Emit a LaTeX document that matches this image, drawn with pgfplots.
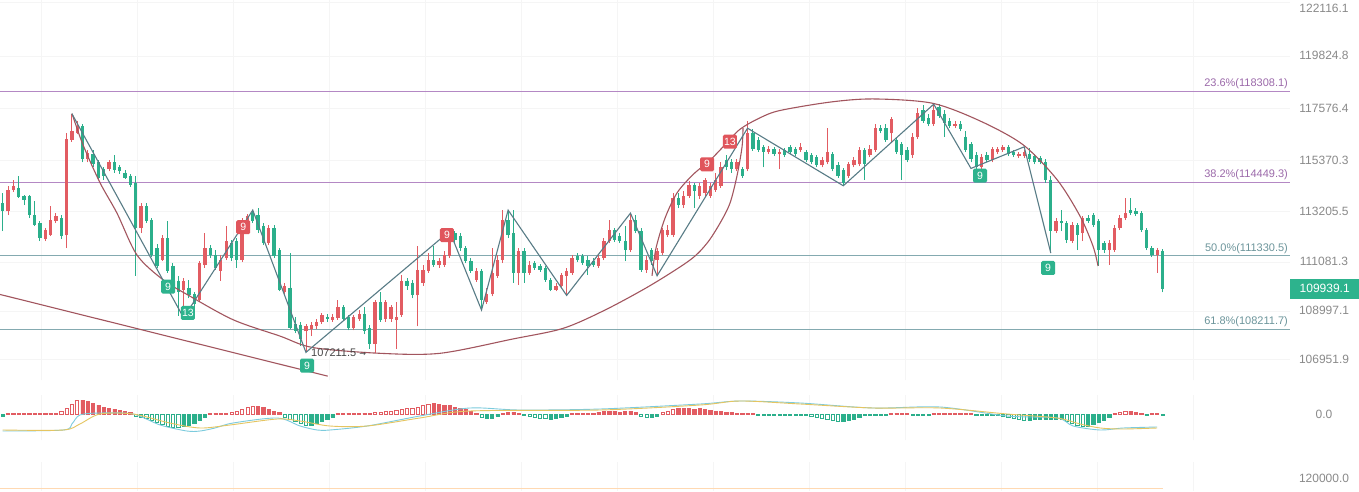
\documentclass[border=0pt]{standalone}
\usepackage{pgfplots}
\pgfplotsset{compat=1.18}
\usepackage{pgfplotstable}
\usepackage{fontspec}
\setmainfont{Liberation Sans}
\newfontfamily\dejavu{DejaVu Sans}

\definecolor{upc}{HTML}{E25C62}
\definecolor{downc}{HTML}{2BAF8B}
\definecolor{boxg}{HTML}{2DB38D}
\definecolor{boxr}{HTML}{E0555C}
\definecolor{fibp}{HTML}{B488C4}
\definecolor{fibpt}{HTML}{9C6AAA}
\definecolor{fibt}{HTML}{84AAB0}
\definecolor{fibtt}{HTML}{6C959B}
\definecolor{zig}{HTML}{587C86}
\definecolor{arc}{HTML}{A2555E}
\definecolor{tickc}{HTML}{8A8A8A}
\definecolor{difc}{HTML}{7CCBDD}
\definecolor{deac}{HTML}{E5C561}

% i open high low close macd-hist filled
\pgfplotstableread{
i o h l c m f
0 113572 114002 112378 113229 -80 1
1 113229 114305 113059 114132 40 1
2 114132 114564 114045 114305 40 1
3 114218 114737 113787 113830 40 1
4 113873 113916 113486 113701 40 1
5 113873 113916 112931 113059 40 1
6 113059 113658 112591 112633 40 1
7 112718 112803 111954 112081 40 1
8 112039 112506 111954 112421 40 1
9 112208 113443 112166 112846 40 1
10 112803 113144 112718 113016 40 1
11 112931 113059 112039 112166 120 0
12 112208 116528 111658 116308 240 0
13 116264 117367 116176 116616 400 0
14 116528 117057 116484 116837 560 0
15 116837 116925 115302 115433 560 1
16 115433 115826 115302 115694 520 1
17 115651 115826 115085 115215 440 1
18 115302 115389 114564 114651 360 1
19 114998 115085 114564 114737 280 1
20 114998 115389 114911 115302 240 1
21 115302 115607 114867 114954 200 1
22 115085 115172 114824 114911 160 1
23 114867 114954 114607 114651 120 1
24 114737 114824 114261 114348 80 1
25 114434 114737 110484 112506 -80 0
26 112506 113572 112293 113443 -120 0
27 113443 113572 112718 112803 -160 0
28 112846 112931 111280 111364 -240 0
29 111658 111827 110818 110902 -320 0
30 111153 112208 111111 112081 -400 0
31 112081 112803 110609 110693 -480 0
32 110902 111027 110192 110276 -520 0
33 110276 110484 108786 109776 -520 0
34 109901 110401 108703 110276 -480 1
35 109984 110317 109528 109652 -440 1
36 109693 109776 109115 109280 -360 1
37 109445 111111 109362 111027 -240 1
38 110944 112293 110818 111658 -120 1
39 111658 111785 111238 111364 40 1
40 111364 111574 110735 110818 40 1
41 110693 111364 110276 111153 40 1
42 111238 112591 111153 111954 40 1
43 111869 111996 111111 111238 80 0
44 111954 112081 110818 111153 120 0
45 111153 112931 111069 112846 200 0
46 112421 113101 112336 113016 280 0
47 113144 113272 112718 112803 320 0
48 113059 113358 112293 112421 320 1
49 112591 112718 111785 111869 280 1
50 111869 112633 111785 112506 200 1
51 112506 112633 111238 111322 120 1
52 111574 111658 109818 109901 80 1
53 109776 110192 109693 110067 -120 0
54 109984 111448 108212 108253 -200 0
55 108457 108745 108048 108130 -280 0
56 108417 108539 107519 107804 -360 0
57 108130 108457 107235 108335 -440 0
58 108212 108539 107926 108417 -440 1
59 108335 108662 108212 108539 -360 1
60 108539 108909 108457 108827 -280 1
61 108745 108868 108539 108662 -200 1
62 108621 108868 108539 108745 -120 1
63 108703 109445 108621 109156 40 1
64 109156 109238 108580 108662 40 1
65 108745 108827 108171 108253 40 1
66 108253 108827 108171 108745 40 1
67 108662 109032 108580 108868 40 1
68 108868 109156 108007 108130 40 1
69 108253 108417 107397 107600 40 1
70 107600 109445 107195 109362 80 0
71 109362 109776 108539 108621 80 0
72 108662 109445 108539 109362 120 0
73 108662 109238 108539 109156 120 0
74 108621 109362 107397 108745 160 0
75 108827 110526 108745 110276 200 0
76 110276 110401 109901 110067 240 0
77 110192 110317 109528 109652 240 0
78 109652 111743 108335 110735 280 0
79 110192 110944 110067 110735 360 0
80 110693 111448 110609 111153 400 0
81 111153 111743 110860 110944 440 1
82 110944 111238 110818 111111 400 1
83 110944 111532 110860 111364 360 1
84 111322 112378 111238 112293 360 1
85 112293 112378 111869 111996 280 1
86 112166 112293 111532 111658 240 1
87 111658 111743 111027 111111 200 1
88 111111 111238 110609 110693 120 1
89 110317 110818 110234 110693 40 1
90 110693 110776 109032 109445 -120 0
91 109362 109984 109280 109693 -160 1
92 109693 111658 109610 110609 -160 1
93 110484 111364 110401 111153 -80 1
94 111153 113272 111027 112846 40 1
95 112846 113272 112081 112208 80 1
96 112293 113272 110192 110609 80 1
97 110609 111658 110109 111532 40 1
98 111532 111658 110192 110609 -40 0
99 110609 111111 110526 110944 -80 0
100 111027 111111 110735 110818 -120 0
101 110902 110985 110651 110735 -160 0
102 110818 110902 110234 110317 -160 0
103 110317 110401 109818 109901 -200 1
104 109901 110192 109818 110067 -160 1
105 110067 110609 109984 110526 -120 1
106 110484 110818 109652 110693 -80 1
107 110609 111364 110526 111238 40 1
108 111322 111448 111069 111153 40 1
109 111322 111406 110944 111027 40 1
110 111153 111322 110526 110902 40 1
111 111111 111238 110860 110944 40 1
112 110902 111364 110818 111238 80 1
113 111238 112081 111153 111954 120 1
114 111954 112846 111869 112421 120 1
115 112421 112506 111911 111996 120 1
116 112166 112293 111869 111954 80 1
117 111954 112591 111111 111574 120 1
118 111574 113144 111490 112846 120 1
119 112846 113059 112293 112378 80 1
120 112378 112506 110651 110735 -80 0
121 110735 111322 110609 111153 -120 0
122 111574 111658 110944 111111 -120 1
123 111153 111658 110484 111532 -80 1
124 111448 112506 111364 112421 80 0
125 112208 112633 112124 112421 120 0
126 112208 114002 112124 113787 200 0
127 113787 114002 113358 113486 240 1
128 113486 114089 113358 113873 240 1
129 113873 114521 113787 114348 240 1
130 114348 114434 113358 114089 200 1
131 113873 114434 113744 114305 240 1
132 114002 114651 113873 114564 200 1
133 113873 114434 113787 114305 160 1
134 114132 114867 114045 114564 120 1
135 114305 115302 114218 115085 120 1
136 115389 115607 114954 115085 80 1
137 115302 115433 114867 114998 80 1
138 114998 115433 114911 115302 40 1
139 114998 115085 114651 114737 40 1
140 114998 117057 114911 116528 40 1
141 116528 116704 115782 115870 40 1
142 116264 116396 115738 115826 -40 0
143 115957 116045 115085 115738 -40 0
144 115738 116001 115651 115870 -40 0
145 115870 115957 115564 115651 -40 0
146 115651 115870 114998 115738 -40 0
147 115826 115913 115520 115607 -40 0
148 115957 116045 115651 115738 -40 0
149 115870 115957 115564 115651 -40 0
150 115826 116132 115738 115957 -40 0
151 115738 115826 115302 115389 -40 0
152 115607 115694 115215 115302 -80 0
153 115520 115607 115085 115172 -120 0
154 115172 115520 115085 115389 -160 0
155 115302 116748 115215 115738 -200 0
156 115651 115738 114911 114998 -240 0
157 115172 115302 114651 114737 -280 0
158 114954 115041 114305 114434 -280 1
159 114737 115302 114651 115215 -240 1
160 115172 115520 115085 115389 -200 1
161 115215 115957 115128 115826 -120 1
162 115826 115913 114564 115215 -40 0
163 115607 116045 115520 115870 -40 0
164 115826 116925 115738 116748 -40 0
165 116748 116881 116528 116616 -40 0
166 116748 116925 116176 116264 -40 0
167 116528 117234 116176 117146 40 1
168 116264 116396 115651 115738 40 1
169 116088 116176 114564 115607 40 1
170 115826 115957 115302 115389 40 1
171 115607 116528 115476 116396 -40 0
172 116396 117589 116308 117411 -40 0
173 117500 117722 116969 117057 -40 0
174 117190 117367 116837 116925 -40 0
175 116925 117767 116837 117500 40 1
176 117633 117767 117190 117279 40 1
177 117367 117500 116396 116969 40 1
178 117057 117190 116748 116837 40 1
179 116837 117057 116748 116925 40 1
180 116925 117057 116616 116704 40 1
181 116396 116616 115738 115826 40 1
182 116088 116176 115302 115433 40 1
183 115607 115738 114954 115085 -40 0
184 115085 115651 114998 115520 -40 0
185 115607 115738 115302 115389 -40 0
186 115389 115957 115302 115870 -40 0
187 115738 115957 115651 115870 -40 0
188 115826 116045 115738 115957 -80 0
189 115957 116045 115564 115651 -120 0
190 115738 115826 115520 115607 -160 0
191 115564 115738 115476 115651 -200 0
192 115564 115826 115476 115738 -240 0
193 115651 115913 115302 115433 -240 1
194 115564 115651 115215 115302 -200 1
195 115476 115564 115215 115302 -200 1
196 115302 115433 114434 114564 -200 1
197 114564 114737 111448 112378 -200 1
198 112378 112931 112293 112803 -200 1
199 112803 113272 112378 112718 -200 1
200 112718 112803 111869 111996 -280 0
201 111954 112761 111869 112633 -360 0
202 112633 112718 111574 112208 -440 0
203 112293 113016 111954 112931 -480 0
204 112931 113059 112718 112803 -480 1
205 113059 113144 112548 112633 -400 1
206 112803 112888 110902 111574 -320 1
207 111869 111954 111448 111574 -240 1
208 111574 111996 110944 111869 -120 1
209 111574 112633 111490 112506 40 1
210 112506 113059 112421 112931 80 0
211 112931 113787 112846 113144 120 0
212 113272 113787 113059 113144 120 1
213 113229 113358 113016 113101 80 1
214 113144 113229 112336 112421 40 1
215 112421 112506 111574 111658 -40 1
216 111658 111743 111280 111364 40 1
217 111364 111658 110609 111574 40 1
218 111532 111616 109776 109939 -40 0
}\data

\pgfplotsset{
  panel/.style={scale only axis, anchor=south west, width=1290pt,
    xmin=-0.508, xmax=241.97, axis line style={draw=none},
    xtick={7.2,25.25,43.3,61.35,79.4,97.45,115.5,133.55,151.6,169.65,187.7,205.75,223.8},
    xticklabels={}, xmajorgrids, grid style={draw=black!4},
    major tick length=0pt, yticklabel pos=right, clip=false,
    scaled y ticks=false,
    yticklabel style={anchor=center, xshift=34pt, text=tickc,
      font=\fontsize{12}{14}\selectfont}},
}
\tikzset{
  lb/.style={rounded corners=1.5pt, minimum width=14pt, minimum height=14pt,
    inner sep=0pt, text=white, font=\fontsize{10.5}{10.5}\selectfont},
  fiblab/.style={anchor=south east, inner sep=0pt, yshift=2pt,
    font=\fontsize{11}{13}\selectfont},
}

\begin{document}
\begin{tikzpicture}
\fill[white] (0pt,0pt) rectangle (1359pt,491pt);

% ---------- price panel ----------
\begin{axis}[panel, at={(0pt,111pt)}, height=380pt,
  ymin=106062, ymax=122189,
  ytick={106951.9,108997.1,111081.3,113205.5,115370.3,117576.4,119824.8,122116.1},
  yticklabels={106951.9,108997.1,111081.3,113205.5,115370.3,117576.4,119824.8,
    \raisebox{-10.5pt}[0pt][0pt]{122116.1}},
  ymajorgrids]

% fibonacci levels
\addplot[fibp, line width=1pt] coordinates {(-0.508,118308.1) (241.97,118308.1)};
\addplot[fibp, line width=1pt] coordinates {(-0.508,114449.3) (241.97,114449.3)};
\addplot[fibt, line width=1pt] coordinates {(-0.508,111330.5) (241.97,111330.5)};
\addplot[fibt, line width=1pt] coordinates {(-0.508,108211.7) (241.97,108211.7)};
\node[fiblab, text=fibpt] at (axis cs:241.6,118308.1) {23.6\%(118308.1)};
\node[fiblab, text=fibpt] at (axis cs:241.6,114449.3) {38.2\%(114449.3)};
\node[fiblab, text=fibtt] at (axis cs:241.6,111330.5) {50.0\%(111330.5)};
\node[fiblab, text=fibtt] at (axis cs:241.6,108211.7) {61.8\%(108211.7)};

% candles, one wick and one body per row of the table
\pgfplotsinvokeforeach{0,...,218}{
  \pgfplotstablegetelem{#1}{o}\of\data \let\vo\pgfplotsretval
  \pgfplotstablegetelem{#1}{h}\of\data \let\vh\pgfplotsretval
  \pgfplotstablegetelem{#1}{l}\of\data \let\vl\pgfplotsretval
  \pgfplotstablegetelem{#1}{c}\of\data \let\vc\pgfplotsretval
  \ifnum\vc<\vo\relax \def\cc{downc}\else \def\cc{upc}\fi
  \edef\tmp{%
    \noexpand\addplot[forget plot, draw=\cc, line width=0.9pt]
      coordinates {(#1,\vl) (#1,\vh)};
    \noexpand\addplot[forget plot, draw=\cc, line width=3.3pt]
      coordinates {(#1,\vo) (#1,\vc)};}%
  \tmp
}

% falling trend line
\addplot[arc, line width=1.1pt] coordinates {(-0.508,109693) (61.1,106225)};

% cup arc
\addplot[arc, line width=1.1pt, smooth, tension=0.5] coordinates {
 (13.03,117367) (15.09,116045) (18.29,114434) (21.48,113144) (25.24,111364)
 (30.13,110317) (34.64,109693) (43.29,108621) (52.12,107926) (58.33,107438)
 (70.92,107195) (82.20,107195) (95.92,107804) (105.32,108253) (113.22,109032)
 (121.68,110067) (129.19,111153) (132.39,111869) (134.83,112718) (136.71,113572)
 (138.03,114737) (138.97,115957) (139.15,116748)};
% dome arc
\addplot[arc, line width=1.1pt, smooth, tension=0.5] coordinates {
 (122.05,110484) (122.80,111658) (124.49,112931) (126.75,114002) (129.76,114780)
 (132.95,115389) (135.77,116045) (138.59,116704) (142.35,117190) (146.11,117500)
 (155.51,117856) (163.59,117990) (174.68,117811) (183.70,117057) (191.79,116045)
 (198.18,114564) (202.50,113016) (204.94,111743) (205.88,110902)};

% zigzag
\addplot[zig, line width=1.1pt] coordinates {
 (13,117367) (34,108703) (47,113272) (57,107235) (84,112378) (90,109032)
 (95,113272) (106,109652) (118,113144) (123,110484) (140,116748)
 (158,114305) (175,117767) (182,115041) (192,115957) (197,111448)};

% count labels
\node[lb, fill=boxg] at (axis cs:31.1,110026) {9};
\node[lb, fill=boxg] at (axis cs:34.8,108909) {13};
\node[lb, fill=boxg] at (axis cs:57.2,106669) {9};
\node[lb, fill=boxr] at (axis cs:45.2,112548) {9};
\node[lb, fill=boxr] at (axis cs:83.5,112208) {9};
\node[lb, fill=boxr] at (axis cs:132.4,115215) {9};
\node[lb, fill=boxr] at (axis cs:136.7,116176) {13};
\node[lb, fill=boxg] at (axis cs:183.7,114737) {9};
\node[lb, fill=boxg] at (axis cs:196.5,110818) {9};

\node[anchor=west, inner sep=0pt, text=black!72, font=\fontsize{11}{13}\selectfont]
  at (axis cs:57.95,107235) {107211.5 {\dejavu\fontsize{8}{8}\selectfont →}};

% last price tag
\node[anchor=west, fill=boxg, text=white, inner sep=0pt, minimum width=69pt,
  minimum height=20pt, font=\fontsize{12}{14}\selectfont]
  at (axis cs:241.97,109939.1) {109939.1};
\end{axis}

% ---------- MACD panel ----------
\begin{axis}[panel, at={(0pt,51pt)}, height=45pt, ymin=-1040, ymax=760,
  ytick={0}, yticklabels={0.0}]
\addplot[ybar, bar width=3.2pt, bar shift=0pt, draw=upc, fill=white, line width=0.6pt,
  restrict expr to domain={2*\thisrow{f}+(\thisrow{m}>0)}{0.5:1.5}]
  table[x=i, y=m] {\data};
\addplot[ybar, bar width=3.2pt, bar shift=0pt, draw=upc, fill=upc, line width=0.6pt,
  restrict expr to domain={2*\thisrow{f}+(\thisrow{m}>0)}{2.5:3.5}]
  table[x=i, y=m] {\data};
\addplot[ybar, bar width=3.2pt, bar shift=0pt, draw=downc, fill=white, line width=0.6pt,
  restrict expr to domain={2*\thisrow{f}+(\thisrow{m}>0)}{-0.5:0.5}]
  table[x=i, y=m] {\data};
\addplot[ybar, bar width=3.2pt, bar shift=0pt, draw=downc, fill=downc, line width=0.6pt,
  restrict expr to domain={2*\thisrow{f}+(\thisrow{m}>0)}{1.5:2.5}]
  table[x=i, y=m] {\data};
% DIF
\addplot[difc, line width=0.9pt, smooth] coordinates {
 (0,-680) (11.4,-640) (13,-400) (14.5,-40) (18.3,40) (24.5,0) (29.6,-440)
 (34.6,-680) (37.1,-680) (39.9,-560) (43.3,-360) (51.6,-160) (55.9,-480)
 (59.1,-640) (61.5,-640) (68.5,-480) (78.4,-80) (87.8,240) (97.2,160)
 (112.3,200) (131.1,400) (138.6,520) (149.9,440) (163.6,240) (176.2,280)
 (188.8,-80) (198.2,-160) (201.2,-480) (206.3,-640) (210.6,-560) (217,-520)};
% DEA
\addplot[deac, line width=0.9pt, smooth] coordinates {
 (0,-640) (11.4,-640) (14.5,-400) (18.3,0) (24.5,0) (31.4,-360) (37.1,-560)
 (42.7,-440) (51.6,-200) (55.9,-280) (61.5,-480) (68.5,-480) (78.4,-160)
 (87.8,120) (112.3,160) (131.1,360) (138.6,520) (149.9,400) (163.6,240)
 (176.2,240) (188.8,0) (198.2,-160) (202.5,-400) (206.3,-560) (210.6,-600)
 (217,-560)};
\end{axis}

% ---------- lower panel ----------
\begin{axis}[panel, at={(0pt,0pt)}, height=29pt, ymin=119417, ymax=120717,
  ytick={120000}, yticklabels={120000.0}]
\addplot[orange!30, line width=0.8pt] coordinates {(-0.508,119520) (218,119520)};
\end{axis}

\pgfresetboundingbox
\useasboundingbox (0pt,0pt) rectangle (1359pt,491pt);
\end{tikzpicture}
\end{document}
